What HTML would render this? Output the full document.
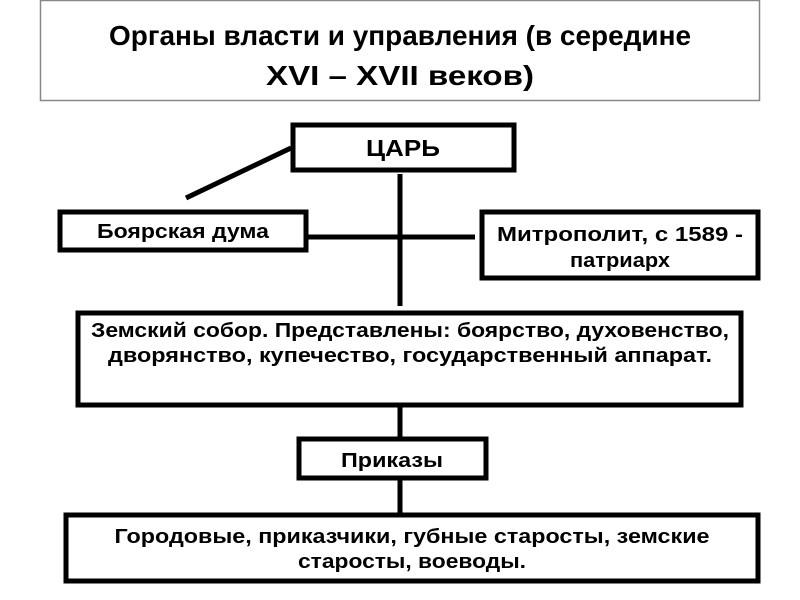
<!DOCTYPE html>
<html><head><meta charset="utf-8"><style>
html,body{margin:0;padding:0;background:#fff;width:800px;height:600px;overflow:hidden}
svg text{font-family:"Liberation Sans","DejaVu Sans",sans-serif;font-weight:bold;fill:#000}
</style></head><body>
<svg width="800" height="600" viewBox="0 0 800 600" xmlns="http://www.w3.org/2000/svg">
<rect x="40.5" y="0.5" width="719" height="100" fill="#fff" stroke="#888" stroke-width="1.5"/>
<text x="400" y="45" text-anchor="middle" font-size="28" style="font-weight:bold" textLength="582" lengthAdjust="spacingAndGlyphs">Органы власти и управления (в середине</text>
<text x="400" y="85" text-anchor="middle" font-size="28" style="font-weight:bold" textLength="268" lengthAdjust="spacingAndGlyphs">XVI – XVII веков)</text>
<g stroke="#000" stroke-width="5" fill="none">
<line x1="291" y1="148" x2="186" y2="198"/>
<line x1="400" y1="174" x2="400" y2="306"/>
<line x1="307" y1="237" x2="475" y2="237"/>
<line x1="400" y1="407" x2="400" y2="437"/>
<line x1="400" y1="479" x2="400" y2="513"/>
<rect x="293" y="125" width="221" height="45" fill="#fff"/>
<rect x="60" y="212" width="246" height="38" fill="#fff"/>
<rect x="482" y="212" width="276" height="66" fill="#fff"/>
<rect x="78" y="313" width="663" height="92" fill="#fff"/>
<rect x="299" y="439" width="187" height="39" fill="#fff"/>
<rect x="66" y="515" width="692" height="66" fill="#fff"/>
</g>
<text x="403" y="156" text-anchor="middle" font-size="23" textLength="74" lengthAdjust="spacingAndGlyphs">ЦАРЬ</text>
<text x="183" y="238" text-anchor="middle" font-size="20" textLength="172" lengthAdjust="spacingAndGlyphs">Боярская дума</text>
<text x="620" y="241" text-anchor="middle" font-size="20" textLength="246" lengthAdjust="spacingAndGlyphs">Митрополит, с 1589 -</text>
<text x="620" y="267" text-anchor="middle" font-size="20" textLength="100" lengthAdjust="spacingAndGlyphs">патриарх</text>
<text x="410" y="337" text-anchor="middle" font-size="20" textLength="638" lengthAdjust="spacingAndGlyphs">Земский собор. Представлены: боярство, духовенство,</text>
<text x="410" y="362" text-anchor="middle" font-size="20" textLength="604" lengthAdjust="spacingAndGlyphs">дворянство, купечество, государственный аппарат.</text>
<text x="392" y="467" text-anchor="middle" font-size="20" textLength="102" lengthAdjust="spacingAndGlyphs">Приказы</text>
<text x="412" y="543" text-anchor="middle" font-size="20" textLength="595" lengthAdjust="spacingAndGlyphs">Городовые, приказчики, губные старосты, земские</text>
<text x="412" y="568" text-anchor="middle" font-size="20" textLength="228" lengthAdjust="spacingAndGlyphs">старосты, воеводы.</text>
</svg>
</body></html>
